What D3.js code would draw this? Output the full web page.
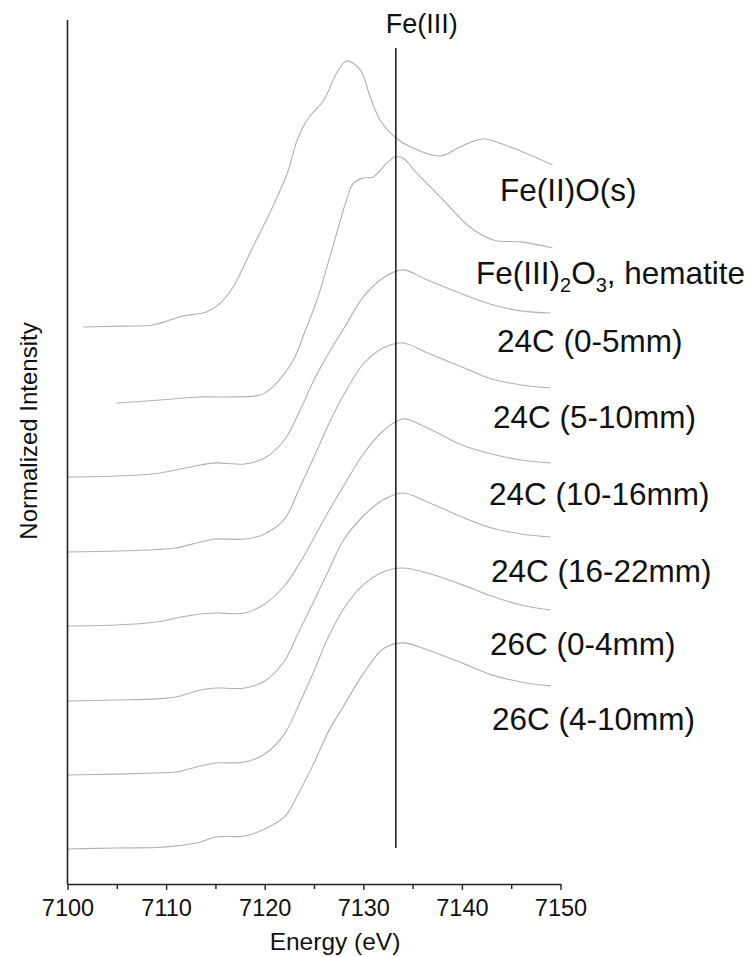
<!DOCTYPE html>
<html lang="en">

<head>
    <meta charset="UTF-8">
    <title>Fe K-edge XANES</title>
    <style>
        body {
            margin: 0;
            background: white;
        }

        text {
            font-family: "Liberation Sans", Arial, sans-serif;
            fill: #111;
        }

        .spectrum {
            fill: none;
            stroke: #b0b0b0;
            stroke-width: 1.1;
        }
    </style>
    <script src="https://d3js.org/d3.v7.min.js"></script>
</head>

<body>
    <div class="graph"></div>
</body>
<script>
    // energies (eV) shared by the sample spectra
    const sampleEnergy = [7100, 7105, 7109, 7111, 7113.5, 7115, 7118, 7120, 7122, 7123.5, 7125,
        7126.5, 7128, 7130, 7132, 7134, 7136.5, 7140, 7143, 7146, 7149]

    const s24c_0_5 = [0, .006, .022, .044, .075, .088, .081, .119, .231, .406, .606, .775, .925, 1.125, 1.244, 1.294, 1.231, 1.144, 1.078, 1.038, 1.025]
    const s24c_5_10 = [0, .006, .016, .025, .063, .081, .081, .113, .206, .394, .594, .8, .981, 1.175, 1.275, 1.306, 1.244, 1.156, 1.081, 1.044, 1.025]
    const s24c_10_16 = [0, .006, .025, .05, .075, .081, .081, .138, .25, .388, .55, .719, .875, 1.075, 1.219, 1.294, 1.238, 1.131, 1.075, 1.038, 1.019]
    const s24c_16_22 = [0, .006, .013, .025, .069, .081, .081, .125, .25, .438, .625, .819, 1.006, 1.156, 1.256, 1.3, 1.244, 1.15, 1.081, 1.044, 1.025]
    const s26c_0_4 = [0, .006, .013, .019, .056, .075, .081, .131, .256, .444, .65, .869, 1.038, 1.188, 1.269, 1.294, 1.263, 1.19, 1.119, 1.063, 1.031]
    const s26c_4_10 = [0, .006, .009, .019, .044, .075, .081, .125, .2, .356, .538, .738, .894, 1.094, 1.25, 1.288, 1.244, 1.163, 1.088, 1.044, 1.019]

    // reference standards
    const hemEnergy = [7105.0, 7109.4, 7113.4, 7116.2, 7119.5, 7120.8, 7122.9, 7124.1, 7125.3, 7126.9, 7128.3, 7129.0,
        7130.0, 7131.0, 7132.2, 7133.2, 7134.0, 7135.4, 7138.1, 7140.8, 7143.2, 7146.2, 7149.2]
    const hematite = [0, .019, .038, .038, .05, .1, .269, .45, .644, .975, 1.269, 1.375, 1.406, 1.413, 1.488, 1.538,
        1.531, 1.438, 1.269, 1.1, 1.019, 1.006, .969]

    const feoEnergy = [7101.6, 7105.3, 7108.7, 7110.4, 7111.7, 7114.1, 7115.5, 7116.8, 7118.8, 7120.8, 7122.3, 7123.3,
        7124.3, 7126.0, 7127.3, 7128.3, 7129.7, 7130.7, 7131.7, 7133.2, 7135.0, 7137.8, 7139.8, 7142.1, 7144.9, 7149.2]
    const feo = [0, .006, .013, .044, .069, .094, .15, .25, .5, .75, .963, 1.169, 1.294, 1.419, 1.588, 1.663, 1.606,
        1.438, 1.294, 1.188, 1.119, 1.069, 1.125, 1.175, 1.125, 1.013]

    const labels = ['Fe(II)O(s)', 'hematite', '24C (0-5mm)', '24C (5-10mm)', '24C (10-16mm)', '24C (16-22mm)', '26C (0-4mm)', '26C (4-10mm)']
    const offsets = [3.481, 3.006, 2.544, 2.075, 1.6125, 1.144, 0.681, 0.219]
    const xTicks = [7100, 7110, 7120, 7130, 7140, 7150]
    const xMinorTicks = [7105, 7115, 7125, 7135, 7145]
    const feIIIEnergy = 7133.3

    const width = 756, height = 957
    const margin = { left: 67.5, right: 195.5, top: 20, bottom: 73 }

    const series = [
        { E: feoEnergy, mu: feo },
        { E: hemEnergy, mu: hematite },
        { E: sampleEnergy, mu: s24c_0_5 },
        { E: sampleEnergy, mu: s24c_5_10 },
        { E: sampleEnergy, mu: s24c_10_16 },
        { E: sampleEnergy, mu: s24c_16_22 },
        { E: sampleEnergy, mu: s26c_0_4 },
        { E: sampleEnergy, mu: s26c_4_10 }
    ].map((s, i) => ({ label: labels[i], offset: offsets[i], pts: s.E.map((e, j) => [e, s.mu[j]]) }))

    // label placement (start x, baseline y) in px
    const labelPos = [[500, 201], [476, 284], [497, 352], [493, 428], [489, 505], [491, 582], [490, 655], [492, 730]]

    const svg = d3.select('.graph').append('svg')
        .attr('width', width)
        .attr('height', height)

    const xScale = d3.scaleLinear()
        .domain([7100, 7150])
        .range([margin.left, width - margin.right])
    const yScale = d3.scaleLinear()
        .domain([0, 5.4])
        .range([height - margin.bottom, margin.top])

    const line = d3.line()
        .x(d => xScale(d[0]))
        .y(d => yScale(d[1]))
        .curve(d3.curveCatmullRom.alpha(0.5))

    svg.selectAll('path.spectrum')
        .data(series)
        .enter().append('path')
        .attr('class', 'spectrum')
        .attr('d', s => line(s.pts.map(p => [p[0], p[1] + s.offset])))

    // Fe(III) reference line
    svg.append('line')
        .attr('x1', xScale(feIIIEnergy)).attr('x2', xScale(feIIIEnergy))
        .attr('y1', yScale(5.225)).attr('y2', yScale(0.225))
        .attr('stroke', '#222')
        .attr('stroke-width', 1.6)
    svg.append('text')
        .attr('x', xScale(feIIIEnergy) + 26)
        .attr('y', 33)
        .attr('text-anchor', 'middle')
        .style('font-size', '27px')
        .text('Fe(III)')

    // x axis
    const xAxis = svg.append('g')
        .attr('transform', `translate(0, ${yScale(0)})`)
        .call(d3.axisBottom(xScale).tickValues(xTicks).tickFormat(d3.format('d')).tickSize(6).tickSizeOuter(0))
    xAxis.select('.domain').attr('stroke', '#222').attr('stroke-width', 1.6)
    xAxis.selectAll('.tick line').attr('stroke', '#222').attr('stroke-width', 1.4)
    xAxis.selectAll('.tick text')
        .attr('y', 15).attr('dy', '0.71em')
        .attr('fill', '#111')
        .style('font-size', '23.5px')
        .style('font-family', '"Liberation Sans", Arial, sans-serif')
    svg.append('g')
        .attr('transform', `translate(0, ${yScale(0)})`)
        .call(d3.axisBottom(xScale).tickValues(xMinorTicks).tickFormat('').tickSize(5).tickSizeOuter(0))
        .call(g => g.select('.domain').remove())
        .selectAll('.tick line').attr('stroke', '#222').attr('stroke-width', 1.4)

    // y axis (plain line, no ticks)
    svg.append('line')
        .attr('x1', margin.left).attr('x2', margin.left)
        .attr('y1', yScale(5.4)).attr('y2', yScale(0))
        .attr('stroke', '#222')
        .attr('stroke-width', 1.6)

    svg.append('text')
        .attr('x', 335)
        .attr('y', 950)
        .attr('text-anchor', 'middle')
        .style('font-size', '24.5px')
        .text('Energy (eV)')

    svg.append('text')
        .attr('transform', 'translate(37, 431) rotate(-90)')
        .attr('text-anchor', 'middle')
        .style('font-size', '24px')
        .text('Normalized Intensity')

    // curve labels
    svg.selectAll('text.lbl')
        .data(series)
        .enter().append('text')
        .attr('class', 'lbl')
        .attr('x', (d, i) => labelPos[i][0])
        .attr('y', (d, i) => labelPos[i][1])
        .style('font-size', '31.5px')
        .each(function (d) {
            const t = d3.select(this)
            if (d.label === 'hematite') {
                t.append('tspan').text('Fe(III)')
                t.append('tspan').attr('dy', 8).style('font-size', '20px').text('2')
                t.append('tspan').attr('dy', -8).text('O')
                t.append('tspan').attr('dy', 8).style('font-size', '20px').text('3')
                t.append('tspan').attr('dy', -8).text(', hematite')
            } else {
                t.text(d.label)
            }
        })

</script>

</html>
